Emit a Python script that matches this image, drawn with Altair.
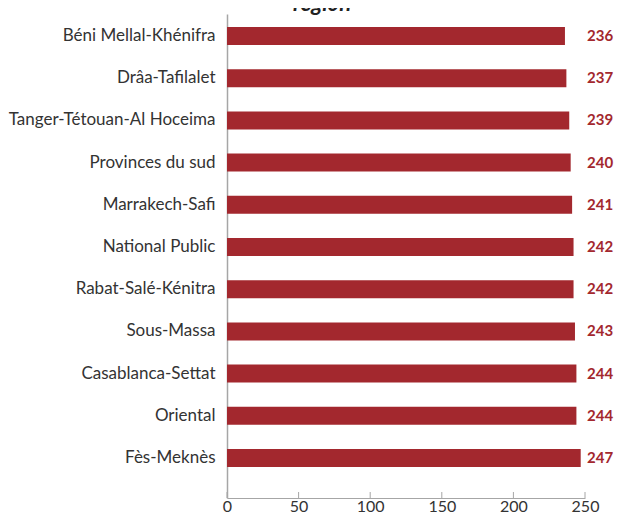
import altair as alt
import pandas as pd

regions = [
    "Béni Mellal-Khénifra",
    "Drâa-Tafilalet",
    "Tanger-Tétouan-Al Hoceima",
    "Provinces du sud",
    "Marrakech-Safi",
    "National Public",
    "Rabat-Salé-Kénitra",
    "Sous-Massa",
    "Casablanca-Settat",
    "Oriental",
    "Fès-Meknès",
]
scores = [236, 237, 239, 240, 241, 242, 242, 243, 244, 244, 247]
x_ticks = [0, 50, 100, 150, 200, 250]
title_text = ["region"]

df = pd.DataFrame({"region": regions, "score": scores})
ticks_df = pd.DataFrame({"t": x_ticks})
title_df = pd.DataFrame({"title": title_text})

FONT = "Lato"
BAR = "#A3282E"
W, H = 358, 484

xscale = alt.Scale(domain=[0, 250], nice=False, zero=True)
yscale = alt.Scale(domain=regions, paddingInner=0, paddingOuter=0.2346, align=0.045)

bars = alt.Chart(df).mark_bar(size=18, color=BAR).encode(
    x=alt.X("score:Q", scale=xscale,
            axis=alt.Axis(values=x_ticks, title=None, grid=False, ticks=False,
                          domainColor="#A6A6A6", domainWidth=1.2,
                          labelFont=FONT, labelFontSize=16, labelColor="#333333",
                          labelPadding=0, labelFlush=False)),
    y=alt.Y("region:N", sort=regions, scale=yscale,
            axis=alt.Axis(title=None, ticks=False, domainColor="#A6A6A6", domainWidth=1.5,
                          labelFont=FONT, labelFontSize=17, labelColor="#333333",
                          labelPadding=12, labelLimit=300)),
)

labels = alt.Chart(df).mark_text(
    align="left", baseline="middle", dx=2, font=FONT, fontSize=15,
    fontWeight="bold", color=BAR,
).encode(
    x=alt.datum(250),
    y=alt.Y("region:N", sort=regions, scale=yscale),
    text=alt.Text("score:Q"),
)

tick_marks = alt.Chart(ticks_df).mark_rule(color="#A6A6A6", strokeWidth=1).encode(
    x=alt.X("t:Q", scale=xscale),
    y=alt.value(H - 6),
    y2=alt.value(H),
)

title_mark = alt.Chart(title_df).mark_text(
    align="center", baseline="bottom", font=FONT, fontSize=22, fontStyle="italic",
    fontWeight="bold", color="#222222",
).encode(
    x=alt.value(95),
    y=alt.value(2),
    text="title:N",
)

chart = (
    alt.layer(bars, tick_marks, labels, title_mark)
    .properties(
        width=W,
        height=H,
        autosize=alt.AutoSizeParams(type="none"),
        padding={"left": 219, "top": 6, "right": 29, "bottom": 17},
    )
    .configure_view(stroke=None)
)

chart.save("out.html", embed_options={"renderer": "svg", "actions": False})
